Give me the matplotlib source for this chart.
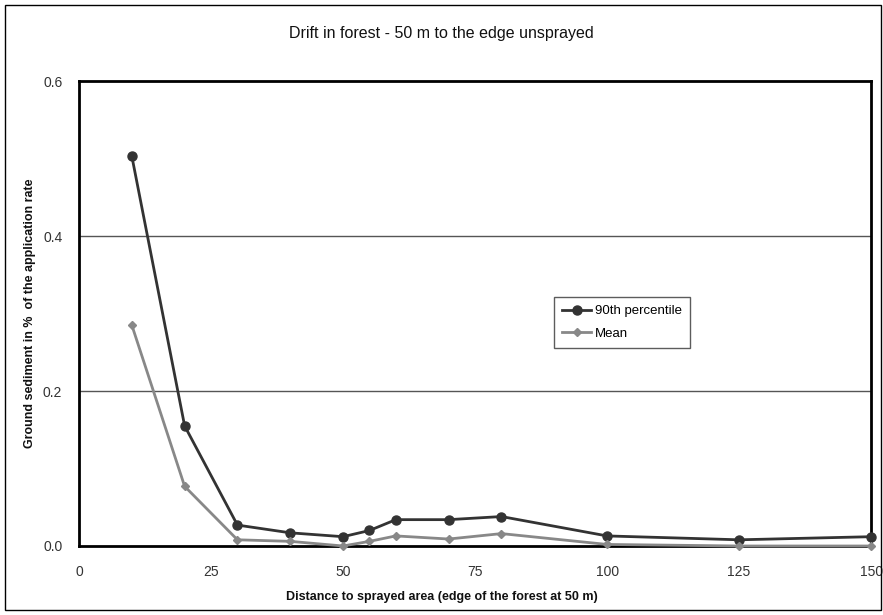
import matplotlib
matplotlib.use("Agg")
import matplotlib.pyplot as plt
from matplotlib.patches import Rectangle

plt.rcParams['font.family'] = ['Liberation Sans', 'DejaVu Sans']

distance = [10, 20, 30, 40, 50, 55, 60, 70, 80, 100, 125, 150]
p90 = [0.503, 0.155, 0.027, 0.017, 0.012, 0.020, 0.034, 0.034, 0.038, 0.013, 0.008, 0.012]
mean = [0.285, 0.077, 0.008, 0.006, 0.0, 0.006, 0.013, 0.009, 0.016, 0.002, 0.0, 0.0]
xticks = [0, 25, 50, 75, 100, 125, 150]
yticks = [0.0, 0.2, 0.4, 0.6]

fig = plt.figure(figsize=(8.83, 6.15), dpi=100)
# outer chart border
fig.patches.append(Rectangle((0.006, 0.008), 0.992, 0.984, transform=fig.transFigure,
                             fill=False, edgecolor='black', linewidth=1.0))
ax = fig.add_axes([0.0895, 0.1122, 0.897, 0.756])

for y in yticks[1:3]:
    ax.axhline(y, color='#555555', linewidth=1.0, zorder=1)

ax.plot(distance, p90, color='#333333', marker='o', markersize=6.5, linewidth=2.0,
        label='90th percentile', zorder=3, clip_on=False)
ax.plot(distance, mean, color='#888888', marker='D', markersize=4.5, linewidth=2.0,
        label='Mean', zorder=4, clip_on=False)

ax.set_xlim(0, 150)
ax.set_ylim(0, 0.6)
ax.set_xticks(xticks)
ax.set_yticks(yticks)
ax.set_yticklabels([f"{v:.1f}" for v in yticks])
ax.tick_params(length=0, labelsize=10, colors='#333333', pad=12)
ax.tick_params(axis='x', pad=14)
for s in ax.spines.values():
    s.set_linewidth(2.0)
    s.set_color('black')

fig.text(0.5, 0.945, 'Drift in forest - 50 m to the edge unsprayed', ha='center', va='center',
         fontsize=11.5, color='#111111')
fig.text(0.5, 0.029, 'Distance to sprayed area (edge of the forest at 50 m)', ha='center', va='center',
         fontsize=9, fontweight='bold', color='#111111')
fig.text(0.034, 0.49, 'Ground sediment in %  of the application rate', ha='center', va='center',
         rotation=90, fontsize=9, fontweight='bold', color='#111111')

leg = ax.legend(loc='lower left', bbox_to_anchor=(0.6, 0.426), frameon=True, fancybox=False,
                edgecolor='#333333', fontsize=9.5, handlelength=2.2, handletextpad=0.3,
                borderpad=0.6, labelspacing=0.8, borderaxespad=0)
leg.get_frame().set_linewidth(1.0)

fig.savefig('out.png', dpi=100)
